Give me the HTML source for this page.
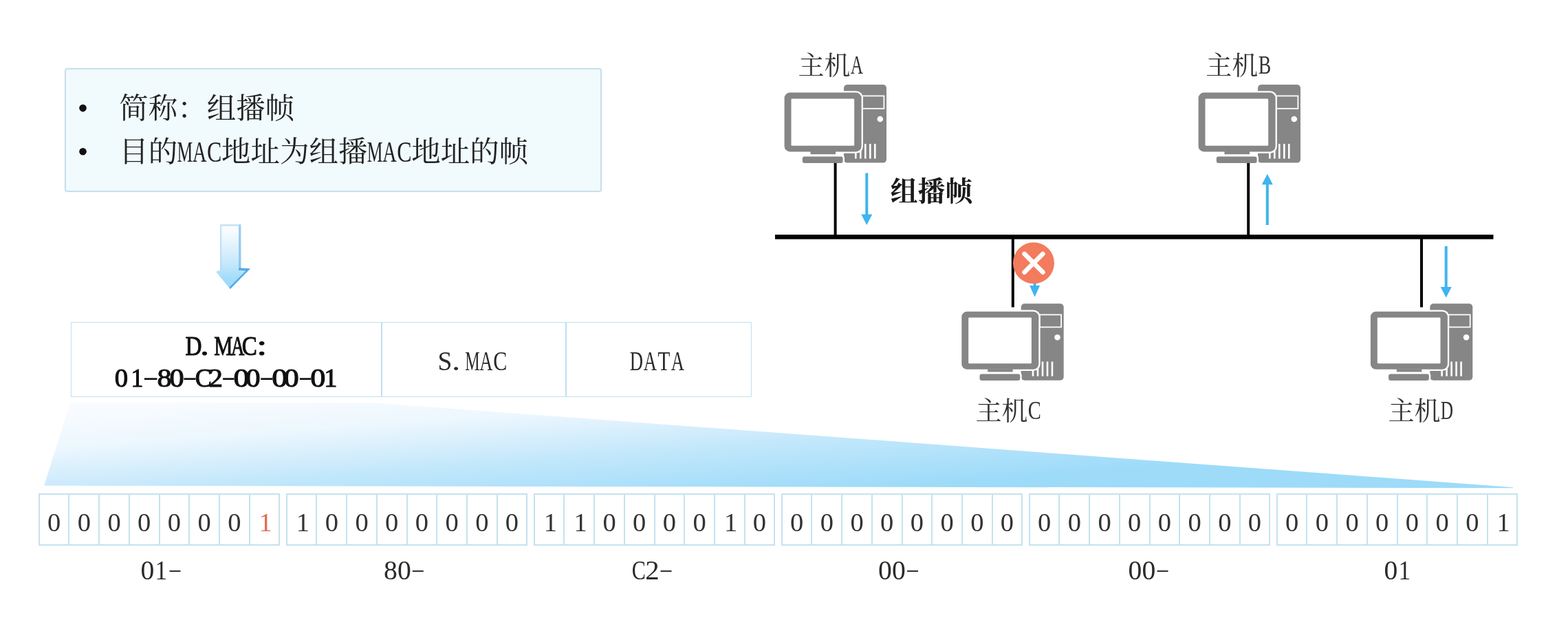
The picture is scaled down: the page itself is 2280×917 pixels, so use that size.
<!DOCTYPE html>
<html lang="zh"><head><meta charset="utf-8"><title>组播帧</title>
<style>
html,body{margin:0;padding:0;background:#fff}
body{width:2280px;height:917px;position:relative;overflow:hidden;filter:blur(0.6px);font-family:"Liberation Serif",serif;color:#222}
.abs{position:absolute}
#info{left:94px;top:99px;width:777px;height:176px;border:2px solid #c9dfea;border-radius:4px;background:#f1fbfe;box-shadow:0 0 3px rgba(190,225,240,.35)}
#tbl{left:102.5px;top:468px;width:990px;height:108.5px;border:1.6px solid #c0e0f0;box-sizing:border-box;background:#fff}
#tbl b{position:absolute;top:0;bottom:0;width:1.6px;background:#c0e0f0}
.grp{position:absolute;top:716.7px;height:76.6px;box-sizing:border-box;border-left:2px solid #c5e2ef;border-top:2px solid #c5e2ef;border-bottom:2px solid #c5e2ef;display:flex;background:#fff}
.grp i{font-style:normal;display:block;width:43.7px;flex:0 0 43.7px;box-sizing:border-box;border-right:2px solid #c5e2ef;height:100%;text-align:center;font-size:38.5px;line-height:1;padding-top:21.8px;padding-right:0;color:#333;transform-origin:50% 50%}
.grp i.r{color:#e06a52}
.grp i.o{padding-left:3.5px}
svg text{font-family:"Liberation Serif","Noto Serif CJK SC",serif}
.sr{position:absolute;left:0;top:0;width:1px;height:1px;overflow:hidden;clip:rect(0 0 0 0);white-space:nowrap;font-size:1px;color:transparent}
</style></head><body>
<div id="info" class="abs"></div>
<div id="tbl" class="abs"><b style="left:450.6px"></b><b style="left:718.8px"></b></div>
<svg class="abs" style="left:0;top:0" width="2280" height="917" viewBox="0 0 2280 917" role="img" aria-label="简称：组播帧；目的MAC地址为组播MAC地址的帧">
<defs>
<linearGradient id="ga" x1="0" y1="0" x2="0" y2="1"><stop offset="0" stop-color="#fdfeff"/><stop offset="0.12" stop-color="#f6fbff"/><stop offset="0.6" stop-color="#c6e8fb"/><stop offset="0.85" stop-color="#a2dcfa"/><stop offset="1" stop-color="#98d8fa"/></linearGradient>
<linearGradient id="gt" gradientUnits="userSpaceOnUse" x1="300" y1="586" x2="314" y2="778.4"><stop offset="0" stop-color="#f7fbff"/><stop offset="0.25" stop-color="#edf7fe"/><stop offset="0.45" stop-color="#d6eefc"/><stop offset="0.62" stop-color="#c1e7fb"/><stop offset="1" stop-color="#9ddbf9"/></linearGradient>
<symbol id="pc" width="160" height="120" viewBox="0 0 160 120" overflow="visible">
<rect x="87" y="0" width="62" height="113.6" rx="5" fill="#868686"/>
<rect x="114" y="16.4" width="31.4" height="18.4" fill="none" stroke="#fff" stroke-width="1.8"/>
<circle cx="139.8" cy="50" r="4.3" fill="#fff"/>
<path d="M104.3 86v21.5M111.3 86v21.5M118.3 86v21.5M125.3 86v21.5M132.3 86v21.5" stroke="#fff" stroke-width="2.6"/>
<rect x="24.8" y="102.4" width="63.2" height="11.6" rx="4" fill="#fff"/>
<rect x="-1.7" y="9.3" width="116.6" height="90.4" rx="10" fill="#fff"/>
<rect x="0.6" y="11.6" width="112" height="85.8" rx="8" fill="#868686"/>
<rect x="10.5" y="20.6" width="91.7" height="68.1" rx="1.2" fill="#fff"/>
<rect x="38.5" y="97" width="36.5" height="4.2" fill="#868686"/>
<rect x="26.8" y="104.4" width="58.8" height="9.6" rx="3" fill="#868686"/>
</symbol>
</defs>
<path d="M102 585.5H545L2200 708.2L2200 709.2L66 705.8Q64 705.8 64.7 703.8z" fill="url(#gt)"/>
<g id="bigarrow"><path d="M320 326H350.4V390.3H364L334.7 420L314 395L320 392.4z" fill="url(#ga)"/><path d="M347 326H350.4V390H347z" fill="#7dbdee" opacity="0.75"/><path d="M347 389.4H350.4L364 390.3L334.7 420L333.6 417.6L357.4 393.4L347 392.8z" fill="#459fe2" opacity="0.85"/><path d="M320 326H350.4V328.4H322.2V391.4L320 392.4z" fill="#b4d8f4" opacity="0.75"/></g>
<rect x="1127" y="341" width="1044.5" height="6.6" fill="#000"/><rect x="1212.6" y="236.6" width="4" height="107.4" fill="#000"/><rect x="1813.2" y="236.6" width="4" height="107.4" fill="#000"/><rect x="1470.8" y="344" width="4" height="102.5" fill="#000"/><rect x="2065" y="344" width="4" height="102.5" fill="#000"/><use href="#pc" transform="translate(1140,123) scale(1,1)"/><use href="#pc" transform="translate(1742,123) scale(1,1)"/><use href="#pc" transform="translate(1397.7,441.3) scale(1,0.98)"/><use href="#pc" transform="translate(1992.3,441.3) scale(1,0.98)"/><path d="M1258.3 251.6V311.4h-6L1260.3 326.9L1268.3 311.4h-6V251.6z" fill="#3fb4ee"/><path d="M1840.8 327.1V268.2h-6L1842.8 252.7L1850.8 268.2h-6V327.1z" fill="#3fb4ee"/><path d="M2100.7 357.7V416.9h-6L2102.7 432.4L2110.7 416.9h-6V357.7z" fill="#3fb4ee"/><path d="M1502.6 400V415.1h-5.5L1504.6 431.6L1512.1 415.1h-5.5V400z" fill="#3fb4ee"/><circle cx="1503" cy="382.3" r="30" fill="#f37b5e"/><path d="M1489.6 368.9l26.8 26.8M1516.4 368.9l-26.8 26.8" stroke="#fff" stroke-width="6.6" stroke-linecap="round" fill="none"/>
<text x="173.3" y="172" font-size="42.5" fill="#222">简称：组播帧</text><text x="173.3" y="235" font-size="42.5" fill="#222">目的</text><text transform="translate(257.56,235) scale(0.6016,1)" font-size="42.5" fill="#222">M</text><text transform="translate(279.91,235) scale(0.6666,1)" font-size="42.5" fill="#222">A</text><text transform="translate(300.97,235) scale(0.7533,1)" font-size="42.5" fill="#222">C</text><text x="322.05" y="235" font-size="42.5" fill="#222">地址为组播</text><text transform="translate(533.81,235) scale(0.6016,1)" font-size="42.5" fill="#222">M</text><text transform="translate(556.16,235) scale(0.6666,1)" font-size="42.5" fill="#222">A</text><text transform="translate(577.22,235) scale(0.7533,1)" font-size="42.5" fill="#222">C</text><text x="598.3" y="235" font-size="42.5" fill="#222">地址的帧</text><circle cx="120.5" cy="157.1" r="5.3" fill="#111"/><circle cx="120.5" cy="220.3" r="5.3" fill="#111"/><text transform="translate(269.44,515.7) scale(0.8242,1)" font-size="40.3" stroke="#111" stroke-width="1.1" fill="#111">D</text><text transform="translate(291.31,515.7) scale(1.2390,1)" font-size="40.3" stroke="#111" stroke-width="1.1" fill="#111">.</text><text transform="translate(311.22,515.7) scale(0.7584,1)" font-size="40.3" stroke="#111" stroke-width="1.1" fill="#111">M</text><text transform="translate(336.04,515.7) scale(0.6687,1)" font-size="40.3" stroke="#111" stroke-width="1.1" fill="#111">A</text><text transform="translate(351.84,515.7) scale(0.8216,1)" font-size="40.3" stroke="#111" stroke-width="1.1" fill="#111">C</text><text transform="translate(373.17,515.7) scale(1.3285,1)" font-size="40.3" stroke="#111" stroke-width="1.1" fill="#111">:</text><text transform="translate(166.73,561.5) scale(1.0051,1)" font-size="38.5" stroke="#111" stroke-width="1.1" fill="#111">0</text><text transform="translate(190.45,561.5) scale(0.9296,1)" font-size="38.5" stroke="#111" stroke-width="1.1" fill="#111">1</text><text transform="translate(207.34,559.1) scale(1.8598,0.904)" font-size="38.5" fill="#111">-</text><text transform="translate(228.49,561.5) scale(1.0970,1)" font-size="38.5" stroke="#111" stroke-width="1.1" fill="#111">8</text><text transform="translate(246.39,561.5) scale(1.0970,1)" font-size="38.5" stroke="#111" stroke-width="1.1" fill="#111">0</text><text transform="translate(264.96,559.1) scale(1.7098,0.904)" font-size="38.5" fill="#111">-</text><text transform="translate(283.81,561.5) scale(0.9465,1)" font-size="38.5" stroke="#111" stroke-width="1.1" fill="#111">C</text><text transform="translate(303.6,561.5) scale(1.0626,1)" font-size="38.5" stroke="#111" stroke-width="1.1" fill="#111">2</text><text transform="translate(321.66,559.1) scale(1.6398,0.904)" font-size="38.5" fill="#111">-</text><text transform="translate(339.46,561.5) scale(1.1889,1)" font-size="38.5" stroke="#111" stroke-width="1.1" fill="#111">0</text><text transform="translate(357.49,561.5) scale(1.0970,1)" font-size="38.5" stroke="#111" stroke-width="1.1" fill="#111">0</text><text transform="translate(376.74,559.1) scale(1.7198,0.904)" font-size="38.5" fill="#111">-</text><text transform="translate(395.36,561.5) scale(1.1889,1)" font-size="38.5" stroke="#111" stroke-width="1.1" fill="#111">0</text><text transform="translate(412.63,561.5) scale(1.1399,1)" font-size="38.5" stroke="#111" stroke-width="1.1" fill="#111">0</text><text transform="translate(433.56,559.1) scale(1.6398,0.904)" font-size="38.5" fill="#111">-</text><text transform="translate(451.32,561.5) scale(1.1460,1)" font-size="38.5" stroke="#111" stroke-width="1.1" fill="#111">0</text><text transform="translate(471.23,561.5) scale(0.9960,1)" font-size="38.5" stroke="#111" stroke-width="1.1" fill="#111">1</text><text transform="translate(636.49,537.5) scale(0.9362,1)" font-size="40" fill="#2a2a2a">S</text><text transform="translate(656.65,537.5) scale(1.2694,1)" font-size="40" fill="#2a2a2a">.</text><text transform="translate(676.31,537.5) scale(0.6016,1)" font-size="40" fill="#2a2a2a">M</text><text transform="translate(697.34,537.5) scale(0.6666,1)" font-size="40" fill="#2a2a2a">A</text><text transform="translate(717.16,537.5) scale(0.7533,1)" font-size="40" fill="#2a2a2a">C</text><text transform="translate(915.73,537.5) scale(0.6658,1)" font-size="40" fill="#2a2a2a">D</text><text transform="translate(935.84,537.5) scale(0.6666,1)" font-size="40" fill="#2a2a2a">A</text><text transform="translate(956.57,537.5) scale(0.7289,1)" font-size="40" fill="#2a2a2a">T</text><text transform="translate(975.84,537.5) scale(0.6666,1)" font-size="40" fill="#2a2a2a">A</text><text x="1160.4" y="107.8" font-size="38" fill="#333">主机</text><text transform="translate(1236.72,107) scale(0.6666,1)" font-size="38" fill="#333">A</text><text x="1753.3" y="107.8" font-size="38" fill="#333">主机</text><text transform="translate(1829.83,107) scale(0.7296,1)" font-size="38" fill="#333">B</text><text x="1418.6" y="610" font-size="38" fill="#333">主机</text><text transform="translate(1494.76,609.2) scale(0.7533,1)" font-size="38" fill="#333">C</text><text x="2018.6" y="610" font-size="38" fill="#333">主机</text><text transform="translate(2094.82,609.2) scale(0.6658,1)" font-size="38" fill="#333">D</text><text x="1294.6" y="292.3" font-size="40" font-weight="bold" fill="#1a1a1a">组播帧</text><text transform="translate(204.59,841.7) scale(1.0035,1)" font-size="39.5" fill="#2b2b2b">0</text><text transform="translate(225.4,841.7) scale(0.8917,1)" font-size="39.5" fill="#2b2b2b">1</text><text transform="translate(244.21,836.31) scale(1.5593,0.6778)" font-size="39.5" fill="#333">-</text><text transform="translate(557.89,841.7) scale(1.0035,1)" font-size="39.5" fill="#2b2b2b">8</text><text transform="translate(577.89,841.7) scale(1.0035,1)" font-size="39.5" fill="#2b2b2b">0</text><text transform="translate(597.51,836.31) scale(1.5593,0.6778)" font-size="39.5" fill="#333">-</text><text transform="translate(918.66,841.7) scale(0.7629,1)" font-size="39.5" fill="#2b2b2b">C</text><text transform="translate(938.3,841.7) scale(1.0357,1)" font-size="39.5" fill="#2b2b2b">2</text><text transform="translate(958.21,836.31) scale(1.5593,0.6778)" font-size="39.5" fill="#333">-</text><text transform="translate(1277.09,841.7) scale(1.0035,1)" font-size="39.5" fill="#2b2b2b">0</text><text transform="translate(1297.09,841.7) scale(1.0035,1)" font-size="39.5" fill="#2b2b2b">0</text><text transform="translate(1316.71,836.31) scale(1.5593,0.6778)" font-size="39.5" fill="#333">-</text><text transform="translate(1640.59,841.7) scale(1.0035,1)" font-size="39.5" fill="#2b2b2b">0</text><text transform="translate(1660.59,841.7) scale(1.0035,1)" font-size="39.5" fill="#2b2b2b">0</text><text transform="translate(1680.21,836.31) scale(1.5593,0.6778)" font-size="39.5" fill="#333">-</text><text transform="translate(2012.59,841.7) scale(1.0035,1)" font-size="39.5" fill="#2b2b2b">0</text><text transform="translate(2033.4,841.7) scale(0.8917,1)" font-size="39.5" fill="#2b2b2b">1</text>
</svg>
<div class="grp" style="left:55.8px"><i>0</i><i>0</i><i>0</i><i>0</i><i>0</i><i>0</i><i>0</i><i class="o r">1</i></div><div class="grp" style="left:415.8px"><i class="o">1</i><i>0</i><i>0</i><i>0</i><i>0</i><i>0</i><i>0</i><i>0</i></div><div class="grp" style="left:775.8px"><i class="o">1</i><i class="o">1</i><i>0</i><i>0</i><i>0</i><i>0</i><i class="o">1</i><i>0</i></div><div class="grp" style="left:1135.8px"><i>0</i><i>0</i><i>0</i><i>0</i><i>0</i><i>0</i><i>0</i><i>0</i></div><div class="grp" style="left:1495.8px"><i>0</i><i>0</i><i>0</i><i>0</i><i>0</i><i>0</i><i>0</i><i>0</i></div><div class="grp" style="left:1855.8px"><i>0</i><i>0</i><i>0</i><i>0</i><i>0</i><i>0</i><i>0</i><i class="o">1</i></div>
<p class="sr">简称：组播帧。目的MAC地址为组播MAC地址的帧。主机A 主机B 主机C 主机D 组播帧</p>
</body></html>
